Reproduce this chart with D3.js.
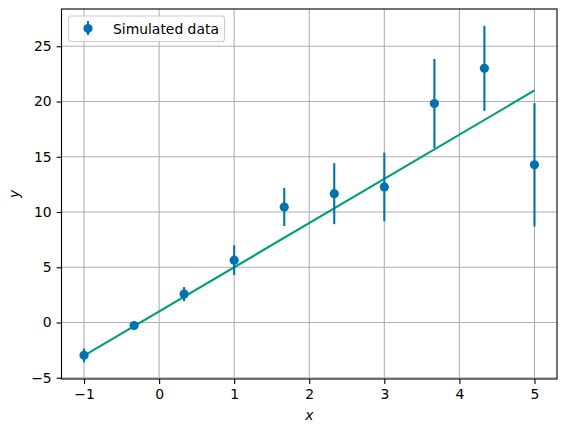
<!DOCTYPE html>
<html>
<head>
<meta charset="utf-8">
<script src="https://cdn.jsdelivr.net/npm/d3@7"></script>
<style>
  body { margin: 0; background: #fff; }
  text { font-family: "DejaVu Sans", sans-serif; }
</style>
</head>
<body>
<div id="chart"></div>
<script>
// data
var xs = [-1, -0.333, 0.333, 1, 1.667, 2.333, 3, 3.667, 4.333, 5]
var ys = [-2.97, -0.27, 2.57, 5.64, 10.45, 11.66, 12.27, 19.82, 23.0, 14.27]
var errs = [0.62, 0.1, 0.64, 1.35, 1.72, 2.76, 3.1, 4.03, 3.85, 5.58]
var fitX = [-1, 5]
var fitY = [-3, 21]
var xTicks = [-1, 0, 1, 2, 3, 4, 5]
var yTicks = [-5, 0, 5, 10, 15, 20, 25]
var legendLabel = "Simulated data"

var W = 566, H = 432
var MARGIN = {TOP: 9, RIGHT: 9, BOTTOM: 53, LEFT: 61.5}
var BLUE = "#0072B2", GREEN = "#009E73"

const svg = d3.select("#chart").append("svg")
  .attr("width", W)
  .attr("height", H)

// matplotlib style limits: data range plus 5% margins
var yLo = d3.min(ys.map((d, i) => d - errs[i])),
    yHi = d3.max(ys.map((d, i) => d + errs[i]))
var yPad = (yHi - yLo) * 0.05
var xPad = (d3.max(xs) - d3.min(xs)) * 0.05

var x = d3.scaleLinear()
  .domain([d3.min(xs) - xPad, d3.max(xs) + xPad])
  .range([MARGIN.LEFT, W - MARGIN.RIGHT])

var y = d3.scaleLinear()
  .domain([yLo - yPad, yHi + yPad])
  .range([H - MARGIN.BOTTOM, MARGIN.TOP])

var fmt = d => d < 0 ? "\u2212" + Math.abs(d) : String(d)

// grid
svg.append("g").selectAll("line").data(xTicks).join("line")
  .attr("x1", d => x(d)).attr("x2", d => x(d))
  .attr("y1", MARGIN.TOP).attr("y2", H - MARGIN.BOTTOM)
  .attr("stroke", "#b0b0b0").attr("stroke-width", 1.1)
svg.append("g").selectAll("line").data(yTicks).join("line")
  .attr("x1", MARGIN.LEFT).attr("x2", W - MARGIN.RIGHT)
  .attr("y1", d => y(d)).attr("y2", d => y(d))
  .attr("stroke", "#b0b0b0").attr("stroke-width", 1.1)

// axes
var xAxis = svg.append("g")
  .attr("transform", `translate(0, ${H - MARGIN.BOTTOM})`)
  .call(d3.axisBottom(x).tickValues(xTicks).tickFormat(fmt).tickSize(4.9).tickPadding(4.9))
var yAxis = svg.append("g")
  .attr("transform", `translate(${MARGIN.LEFT}, 0)`)
  .call(d3.axisLeft(y).tickValues(yTicks).tickFormat(fmt).tickSize(4.9).tickPadding(4.9))

svg.selectAll(".domain").remove()
svg.selectAll(".tick line").attr("stroke", "#000").attr("stroke-width", 1.1)
svg.selectAll(".tick text")
  .attr("fill", "#000")
  .style("font-family", "DejaVu Sans")
  .style("font-size", "13.9px")

// fit line
svg.append("path")
  .datum(fitX.map((d, i) => [d, fitY[i]]))
  .attr("d", d3.line().x(d => x(d[0])).y(d => y(d[1])))
  .attr("fill", "none")
  .attr("stroke", GREEN)
  .attr("stroke-width", 2.1)

// error bars and markers
svg.append("g").selectAll("line").data(xs).join("line")
  .attr("x1", d => x(d)).attr("x2", d => x(d))
  .attr("y1", (d, i) => y(ys[i] - errs[i]))
  .attr("y2", (d, i) => y(ys[i] + errs[i]))
  .attr("stroke", BLUE)
  .attr("stroke-width", 2.1)
svg.append("g").selectAll("circle").data(xs).join("circle")
  .attr("cx", d => x(d))
  .attr("cy", (d, i) => y(ys[i]))
  .attr("r", 4.6)
  .attr("fill", BLUE)

// frame
svg.append("rect")
  .attr("x", MARGIN.LEFT).attr("y", MARGIN.TOP)
  .attr("width", W - MARGIN.RIGHT - MARGIN.LEFT)
  .attr("height", H - MARGIN.BOTTOM - MARGIN.TOP)
  .attr("fill", "none")
  .attr("stroke", "#000")
  .attr("stroke-width", 1.1)

// axis labels
svg.append("text")
  .attr("x", (MARGIN.LEFT + W - MARGIN.RIGHT) / 2)
  .attr("y", 420)
  .attr("text-anchor", "middle")
  .style("font-size", "13.9px")
  .style("font-style", "italic")
  .text("x")
svg.append("text")
  .attr("transform", `translate(19, ${(MARGIN.TOP + H - MARGIN.BOTTOM) / 2}) rotate(-90)`)
  .attr("text-anchor", "middle")
  .style("font-size", "13.9px")
  .style("font-style", "italic")
  .text("y")

// legend
var lg = svg.append("g").attr("transform", `translate(${MARGIN.LEFT + 7}, ${MARGIN.TOP + 7})`)
lg.append("rect")
  .attr("x", 0).attr("y", 0)
  .attr("width", 156).attr("height", 25.5)
  .attr("rx", 2.8)
  .attr("fill", "#fff").attr("fill-opacity", 0.8)
  .attr("stroke", "#cccccc").attr("stroke-width", 1.1)
lg.append("line")
  .attr("x1", 19.5).attr("x2", 19.5)
  .attr("y1", 5).attr("y2", 19)
  .attr("stroke", BLUE).attr("stroke-width", 2.1)
lg.append("circle")
  .attr("cx", 19.5).attr("cy", 12.5).attr("r", 4.6)
  .attr("fill", BLUE)
lg.append("text")
  .attr("x", 44.5).attr("y", 17.5)
  .style("font-size", "13.9px")
  .text(legendLabel)
</script>
</body>
</html>
